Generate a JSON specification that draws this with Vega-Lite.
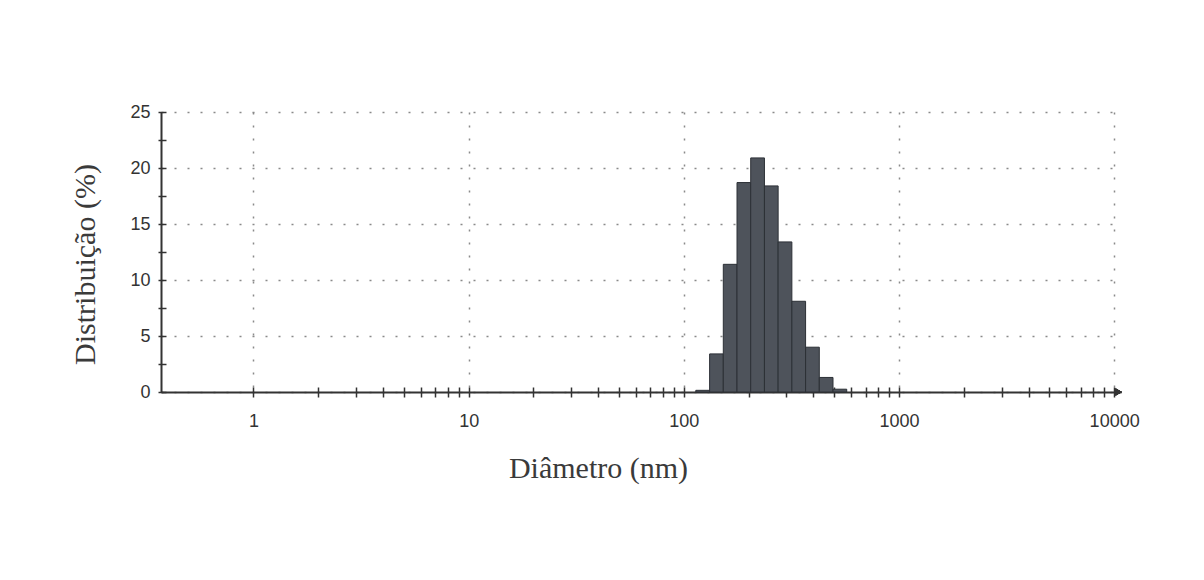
{
  "$schema": "https://vega.github.io/schema/vega-lite/v6.json",
  "width": 960,
  "height": 280,
  "autosize": "none",
  "padding": {"left": 161, "top": 112, "right": 83, "bottom": 188},
  "background": "white",
  "config": {
    "view": {"stroke": null},
    "axis": {
      "labelFont": "Liberation Sans",
      "labelFontSize": 18,
      "labelColor": "#333333",
      "titleFont": "Liberation Serif",
      "titleFontWeight": "normal",
      "titleFontSize": 30,
      "titleColor": "#3a3a3a",
      "domainColor": "#333333",
      "domainWidth": 2,
      "gridColor": "#8a8a8a",
      "gridWidth": 1.5,
      "gridDash": [2, 11],
      "tickColor": "#333333"
    }
  },
  "data": {
    "values": [
      {"size": 122.4, "lo": 113.7, "hi": 131.8, "pct": 0.15},
      {"size": 141.8, "lo": 131.8, "hi": 152.6, "pct": 3.4},
      {"size": 164.2, "lo": 152.6, "hi": 176.7, "pct": 11.4},
      {"size": 190.1, "lo": 176.7, "hi": 204.6, "pct": 18.7},
      {"size": 220.2, "lo": 204.6, "hi": 237.0, "pct": 20.9},
      {"size": 255.0, "lo": 237.0, "hi": 274.4, "pct": 18.4},
      {"size": 295.3, "lo": 274.4, "hi": 317.8, "pct": 13.4},
      {"size": 342.0, "lo": 317.8, "hi": 368.1, "pct": 8.1},
      {"size": 396.1, "lo": 368.1, "hi": 426.3, "pct": 4.0},
      {"size": 458.7, "lo": 426.3, "hi": 493.6, "pct": 1.3},
      {"size": 531.2, "lo": 493.6, "hi": 571.7, "pct": 0.25}
    ]
  },
  "layer": [
    {
      "mark": {"type": "rect", "color": "#4e535b", "stroke": "#2c3036", "strokeWidth": 1},
      "encoding": {
        "x": {
          "field": "lo",
          "type": "quantitative",
          "scale": {"type": "log", "domain": [0.3717, 10761], "nice": false},
          "axis": {
            "orient": "bottom",
            "values": [1, 10, 100, 1000, 10000],
            "format": "d",
            "grid": true,
            "ticks": false,
            "labelPadding": 20,
            "title": "Diâmetro (nm)",
            "titleX": 437,
            "titleY": 76,
            "titleBaseline": "middle",
            "titleAnchor": "middle",
            "titleAlign": "center"
          }
        },
        "x2": {"field": "hi"},
        "y": {
          "field": "pct",
          "type": "quantitative",
          "scale": {"domain": [0, 25], "nice": false},
          "axis": {
            "orient": "left",
            "values": [0, 5, 10, 15, 20, 25],
            "grid": true,
            "ticks": false,
            "labelPadding": 11,
            "title": "Distribuição (%)",
            "titleX": -76,
            "titleY": 152,
            "titleBaseline": "middle",
            "titleAngle": -90,
            "titleAlign": "center"
          }
        },
        "y2": {"datum": 0}
      }
    },
    {
      "mark": {"type": "point", "opacity": 0},
      "encoding": {
        "x": {
          "field": "size",
          "type": "quantitative",
          "axis": {
            "orient": "bottom",
            "values": [1, 2, 3, 4, 5, 6, 7, 8, 9, 10, 20, 30, 40, 50, 60, 70, 80, 90, 100, 200, 300, 400, 500, 600, 700, 800, 900, 1000, 2000, 3000, 4000, 5000, 6000, 7000, 8000, 9000, 10000],
            "labels": false,
            "domain": false,
            "grid": false,
            "tickSize": 10,
            "tickWidth": 1.5,
            "offset": -5,
            "title": null
          }
        },
        "y": {
          "field": "pct",
          "type": "quantitative",
          "axis": {
            "orient": "left",
            "values": [0, 2.5, 5, 7.5, 10, 12.5, 15, 17.5, 20, 22.5, 25],
            "labels": false,
            "domain": false,
            "grid": false,
            "tickSize": 8,
            "tickWidth": 1.5,
            "offset": -5,
            "title": null
          }
        }
      }
    },
    {
      "mark": {"type": "point", "shape": "triangle-right", "filled": true, "color": "#333333", "size": 50, "opacity": 1},
      "encoding": {
        "x": {"datum": 10500, "type": "quantitative", "axis": null},
        "y": {"datum": 0, "type": "quantitative", "axis": null}
      }
    }
  ],
  "resolve": {"axis": {"x": "independent", "y": "independent"}}
}
